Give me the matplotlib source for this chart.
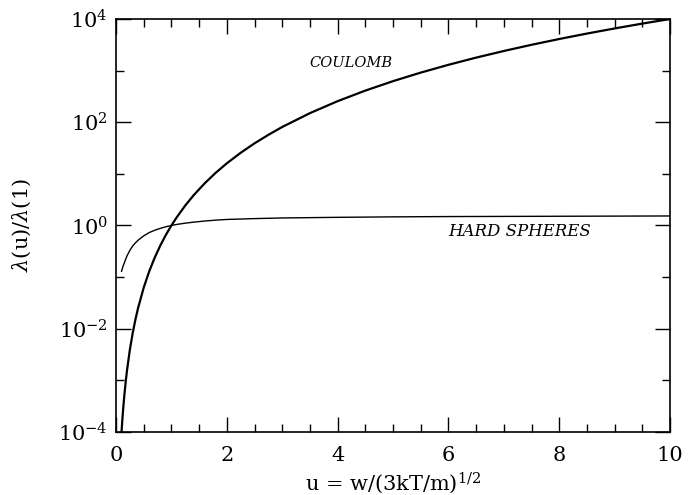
import matplotlib
matplotlib.use("Agg")
import matplotlib.pyplot as plt
from matplotlib.ticker import FixedLocator, NullFormatter

# Data
u_coulomb = [0.1, 0.11, 0.12, 0.135, 0.15, 0.175, 0.2, 0.25, 0.3, 0.35, 0.4, 0.5, 0.6,
             0.7, 0.8, 0.9, 1.0, 1.1, 1.25, 1.4, 1.6, 1.8, 2.0, 2.25, 2.5, 2.75, 3.0,
             3.5, 4.0, 4.5, 5.0, 5.5, 6.0, 6.5, 7.0, 7.5, 8.0, 8.5, 9.0, 9.5, 10.0]
lam_coulomb = [1.0e-4, 1.46e-4, 2.07e-4, 3.32e-4, 5.06e-4, 9.38e-4, 1.6e-3, 3.91e-3,
               8.1e-3, 1.5e-2, 2.56e-2, 6.25e-2, 0.130, 0.240, 0.410, 0.656, 1.0, 1.46,
               2.44, 3.84, 6.55, 10.5, 16, 25.6, 39, 57, 81, 150, 256, 410, 625, 915,
               1296, 1785, 2401, 3164, 4096, 5220, 6561, 8145, 10000]

u_hard = [0.1, 0.125, 0.15, 0.2, 0.25, 0.3, 0.35, 0.4, 0.5, 0.6, 0.7, 0.8, 0.9, 1.0,
          1.1, 1.25, 1.4, 1.6, 1.8, 2.0, 2.5, 3.0, 3.5, 4.0, 5.0, 6.0, 7.0, 8.0, 9.0, 10.0]
lam_hard = [0.13, 0.16, 0.19, 0.26, 0.33, 0.40, 0.46, 0.52, 0.63, 0.73, 0.81, 0.88,
            0.945, 1.0, 1.05, 1.11, 1.16, 1.22, 1.27, 1.31, 1.36, 1.40, 1.42, 1.44,
            1.47, 1.49, 1.50, 1.51, 1.52, 1.53]

y_major = [1e-4, 1e-2, 1e0, 1e2, 1e4]
y_major_labels = [r"$10^{-4}$", r"$10^{-2}$", r"$10^{0}$", r"$10^{2}$", r"$10^{4}$"]
y_minor = [1e-3, 1e-1, 1e1, 1e3]
x_major = [0, 2, 4, 6, 8, 10]
x_major_labels = ["0", "2", "4", "6", "8", "10"]
x_minor = [0.5, 1, 1.5, 2.5, 3, 3.5, 4.5, 5, 5.5, 6.5, 7, 7.5, 8.5, 9, 9.5]

plt.rcParams["font.family"] = ["DejaVu Serif"]
plt.rcParams["mathtext.fontset"] = "dejavuserif"

fig = plt.figure(figsize=(6.88, 4.95), dpi=100)
ax = fig.add_axes([116/688, 1 - 432/495, (670-116)/688, (432-19)/495])

ax.plot(u_coulomb, lam_coulomb, color="black", lw=1.6)
ax.plot(u_hard, lam_hard, color="black", lw=1.0)

ax.set_yscale("log")
ax.set_xlim(0, 10)
ax.set_ylim(1e-4, 1e4)

ax.yaxis.set_major_locator(FixedLocator(y_major))
ax.set_yticklabels(y_major_labels)
ax.yaxis.set_minor_locator(FixedLocator(y_minor))
ax.yaxis.set_minor_formatter(NullFormatter())
ax.set_xticks(x_major)
ax.set_xticklabels(x_major_labels)
ax.set_xticks(x_minor, minor=True)

ax.tick_params(which="both", direction="in", top=True, right=True, width=1.0)
ax.tick_params(which="major", length=11, labelsize=15)
ax.tick_params(axis="x", which="major", pad=10)
ax.tick_params(axis="y", which="major", pad=6)
ax.tick_params(which="minor", length=6)
for s in ax.spines.values():
    s.set_linewidth(1.2)

ax.set_xlabel(r"u = w/(3kT/m)$^{1/2}$", fontsize=15, labelpad=4)
ax.set_ylabel(r"$\lambda$(u)/$\lambda$(1)", fontsize=15, labelpad=18)

ax.text(3.5, 10**3.14, "COULOMB", style="italic", fontsize=10.5, ha="left", va="center")
ax.text(6.0, 0.76, "HARD SPHERES", style="italic", fontsize=12, ha="left", va="center")

fig.savefig("out.png", dpi=100)
